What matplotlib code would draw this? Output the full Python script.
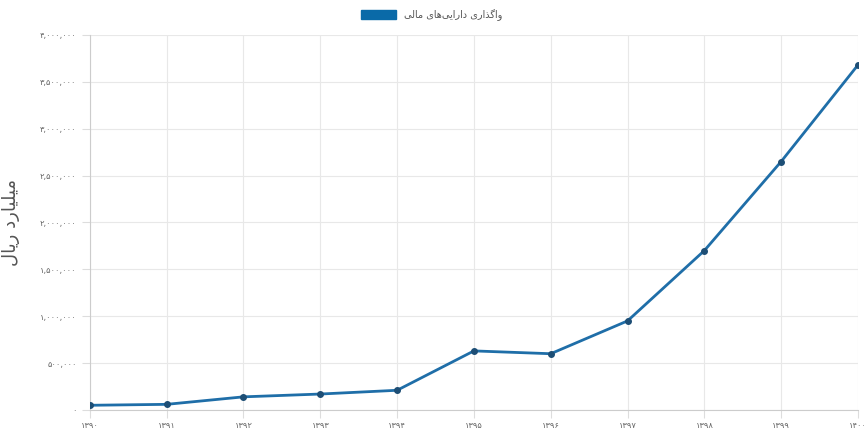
import unicodedata
import matplotlib
matplotlib.use("Agg")
import matplotlib.pyplot as plt
from matplotlib.patches import Patch

years = ["۱۳۹۰", "۱۳۹۱", "۱۳۹۲", "۱۳۹۳", "۱۳۹۴", "۱۳۹۵", "۱۳۹۶", "۱۳۹۷", "۱۳۹۸", "۱۳۹۹", "۱۴۰۰"]
values = [50000, 60000, 140000, 170000, 210000, 630000, 600000, 950000, 1700000, 2650000, 3680000]
y_ticks = [0, 500000, 1000000, 1500000, 2000000, 2500000, 3000000, 3500000, 4000000]
series_name = "واگذاری دارایی‌های مالی"
y_title = "میلیارد ریال"

# matplotlib has no arabic shaping, so pick contextual forms by hand
RIGHT_ONLY = set("اآدذرزژو")


def shape(text):
    out = []
    for i, c in enumerate(text):
        if not ("\u0600" <= c <= "\u06ff") or c.isdigit():
            out.append(c)
            continue
        prev_c = text[i - 1] if i > 0 else ""
        next_c = text[i + 1] if i + 1 < len(text) else ""
        joins_prev = ("\u0620" <= prev_c <= "\u06ff") and prev_c not in RIGHT_ONLY and not prev_c.isdigit()
        joins_next = ("\u0620" <= next_c <= "\u06ff") and c not in RIGHT_ONLY and not next_c.isdigit()
        if joins_prev and joins_next:
            form = "MEDIAL"
        elif joins_prev:
            form = "FINAL"
        elif joins_next:
            form = "INITIAL"
        else:
            form = "ISOLATED"
        try:
            out.append(unicodedata.lookup(unicodedata.name(c) + " " + form + " FORM"))
        except KeyError:
            out.append(c)
    return "".join(out)[::-1].replace("\u200c", "")


def fa_num(v):
    s = f"{v:,}"
    return s.translate(str.maketrans("0123456789", "۰۱۲۳۴۵۶۷۸۹"))


plt.rcParams["font.family"] = ["DejaVu Sans"]

fig = plt.figure(figsize=(8.64, 4.32), dpi=100)
ax = fig.add_axes([0.104, 0.051, 0.889, 0.868])

x = list(range(len(years)))
ax.plot(x, values, color="#1f6ea8", lw=2, marker="o", ms=4,
        mfc="#1d4e75", mec="#1d4e75", zorder=3)

ax.set_xlim(0, len(years) - 1)
ax.set_ylim(0, 4000000)
ax.set_xticks(x)
ax.set_xticklabels(years)
ax.set_yticks(y_ticks)
ax.set_yticklabels([fa_num(v) for v in y_ticks])
ax.tick_params(colors="#666666", labelsize=6, length=6, width=0.8)
ax.tick_params(axis="x", colors="#dddddd", labelcolor="#666666", pad=2)
ax.tick_params(axis="y", colors="#dddddd", labelcolor="#666666")
ax.grid(True, color="#e8e8e8", lw=0.8)
for side in ["top", "right"]:
    ax.spines[side].set_visible(False)
for side in ["left", "bottom"]:
    ax.spines[side].set_color("#cccccc")

ax.set_ylabel(shape(y_title), fontsize=13, color="#555555", labelpad=14)

fig.legend(handles=[Patch(facecolor="#0a6aa8", edgecolor="#0a6aa8", label=shape(series_name))],
           loc="upper center", bbox_to_anchor=(0.5, 1.0), frameon=False,
           fontsize=7, handlelength=3.6, handleheight=1.0, labelcolor="#555555")

fig.savefig("out.png", dpi=100)
